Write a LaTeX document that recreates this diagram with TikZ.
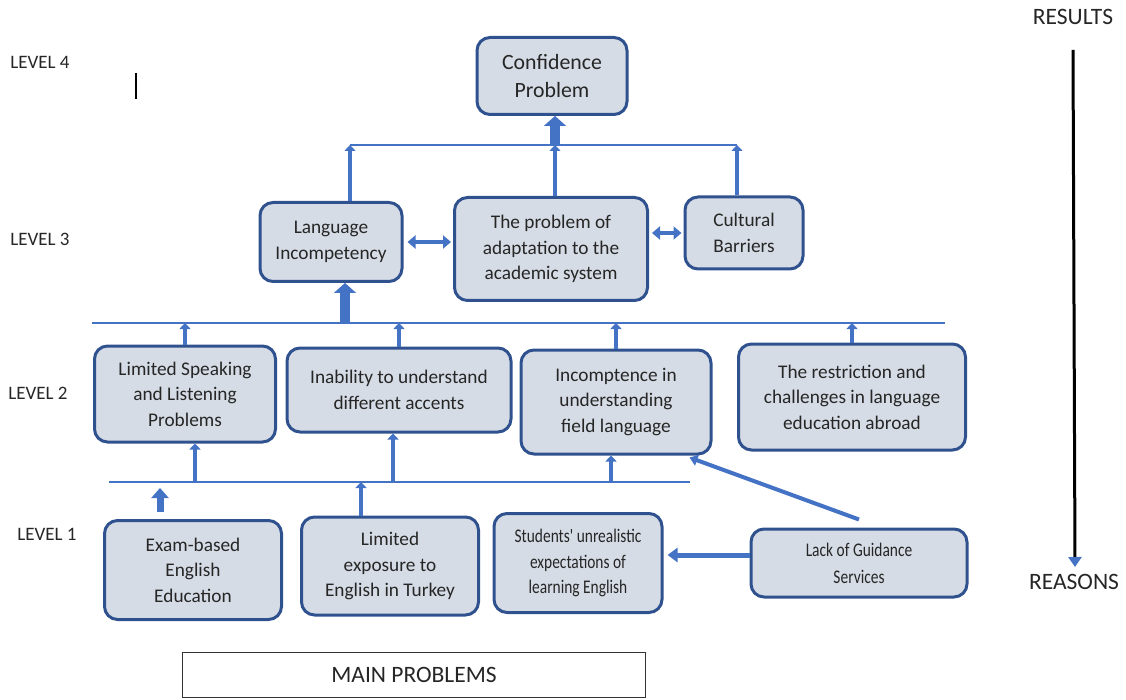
\documentclass[tikz,border=0pt]{standalone}
\usepackage{fontspec}
\setmainfont{Carlito}
\newfontfamily\narrowfont[FakeStretch=0.8]{Carlito}
\usetikzlibrary{
  calc,positioning,
  arrows.meta
}
\definecolor{boxfill}{HTML}{D6DCE5}
\definecolor{boxline}{HTML}{2F528F}
\definecolor{arrowblue}{HTML}{4472C4}
\definecolor{textgrey}{HTML}{262626}
\tikzset{
  probbox/.style={draw=boxline,fill=boxfill,line width=3pt,rounded corners=13pt,
    align=center,text=textgrey,inner sep=0pt,font=\fontsize{19.3}{25.5}\selectfont},
  smallbox/.style={probbox,font=\narrowfont\fontsize{19.3}{25.5}\selectfont},
  busline/.style={arrowblue,line width=2.6pt},
  thinup/.style={arrowblue,line width=4pt,-{Triangle[width=11pt,length=6pt]}},
  midup/.style={arrowblue,line width=7pt,-{Triangle[width=17pt,length=10pt]}},
  fatup/.style={arrowblue,line width=10pt,-{Triangle[width=22pt,length=10pt]}},
  twoway/.style={arrowblue,line width=4.5pt,
    {Triangle[width=13pt,length=8pt]}-{Triangle[width=13pt,length=8pt]}},
  sidelabel/.style={text=textgrey,inner sep=0pt,font=\fontsize{19}{21}\selectfont},
  endlabel/.style={text=textgrey,inner sep=0pt,font=\fontsize{23.5}{26}\selectfont}
}

\begin{document}
\begin{tikzpicture}[x=1pt,y=-1pt]
\useasboundingbox (0,0) rectangle (1126,700);

\node[sidelabel] (lev4) at (40,62) {LEVEL 4};
\node[sidelabel] (lev3) at (40,239) {LEVEL 3};
\node[sidelabel] (lev2) at (38,393) {LEVEL 2};
\node[sidelabel] (lev1) at (47,534) {LEVEL 1};
\draw[line width=1.3pt] (136,73) -- (136,99);

\node[probbox,font=\fontsize{21.8}{28}\selectfont,minimum width=150,minimum height=77] (conf) at (552,76) {Confidence\\Problem};

\node[probbox,minimum width=142,minimum height=79] (lang) at (331,242) {Language\\Incompetency};
\node[probbox,minimum width=193,minimum height=103] (adapt) at (551,249) {The problem of\\adaptation to the\\academic system};
\node[probbox,minimum width=118,minimum height=72] (cult) at (744,233) {Cultural\\Barriers};

\node[probbox,minimum width=181,minimum height=96] (speak) at (185,394) {Limited Speaking\\and Listening\\Problems};
\node[probbox,minimum width=224,minimum height=84] (accent) at (399,390) {Inability to understand\\different accents};
\node[probbox,minimum width=190,minimum height=104] (field) at (616,402) {Incomptence in\\understanding\\field language};
\node[probbox,minimum width=227,minimum height=106] (abroad) at (852,397) {The restriction and\\challenges in language\\education abroad};

\node[probbox,minimum width=177,minimum height=99] (exam) at (193,570) {Exam-based\\English\\Education};
\node[probbox,minimum width=177,minimum height=98] (expo) at (390,566) {Limited\\exposure to\\English in Turkey};
\node[smallbox,minimum width=168,minimum height=99] (expect) at (578,563) {Students{\char"27} unrealistic\\expectations of\\learning English};
\node[smallbox,font=\narrowfont\fontsize{19.3}{27}\selectfont,minimum width=216,minimum height=68] (guide) at (859,563) {Lack of Guidance\\Services};

\node[draw=black!80,line width=1.2pt,minimum width=463,minimum height=45,inner sep=0pt,
  font=\fontsize{23.5}{26}\selectfont,text=textgrey] (mainprob) at (414,675) {MAIN PROBLEMS};

\node[endlabel] (results) at (1073,17) {RESULTS};
\node[endlabel] (reasons) at (1074,582) {REASONS};
\coordinate (axistop) at (1073,50);
\coordinate (axisend) at (1075,567);
\draw[line width=3pt,-{Triangle[width=13pt,length=10pt,color=arrowblue]}] (axistop) -- (axisend);

% level 3 to level 4
\coordinate (top3L) at (350,145);
\coordinate (top3M) at (555,145);
\coordinate (top3R) at (737,145);
\draw[busline] (top3L) -- (top3R);
\draw[thinup] (lang.north -| top3L) -- (top3L);
\draw[thinup] (adapt.north -| top3M) -- (top3M);
\draw[thinup] (cult.north -| top3R) -- (top3R);
\draw[fatup] (top3M) -- (conf.south -| top3M);
\draw[twoway,shorten <=4pt,shorten >=2pt] (lang.east) -- (lang.east -| adapt.west);
\draw[twoway,shorten <=3pt,shorten >=2pt] (adapt.east |- cult.west) -- (cult.west);

% level 2 to level 3
\coordinate (bus2L) at (92,323);
\coordinate (bus2R) at (945,323);
\coordinate (bus2M) at (345,323);
\draw[busline] (bus2L) -- (bus2R);
\draw[fatup] (bus2M) -- (lang.south -| bus2M);
\foreach \n in {speak,accent,field,abroad}
  \draw[thinup] (\n.north) -- (\n.north |- bus2L);

% level 1 to level 2
\coordinate (bus1L) at (109,482);
\coordinate (bus1R) at (690,482);
\coordinate (up1) at (195,482);
\coordinate (up2) at (393,482);
\coordinate (up3) at (611,482);
\coordinate (up4) at (361,482);
\coordinate (up5) at (160,488);
\draw[busline] (bus1L) -- (bus1R);
\draw[thinup] (up1) -- (up1 |- speak.south);
\draw[thinup] (up2) -- (up2 |- accent.south);
\draw[thinup] (up3) -- (up3 |- field.south);
\draw[thinup] (up4 |- expo.north) -- (up4);
\draw[midup] ([xshift=-33pt,yshift=7pt]exam.north) -- (up5);
\draw[arrowblue,line width=4pt,-{Triangle[width=11pt,length=8pt]}] ([yshift=8pt]guide.north) -- ([xshift=-23pt,yshift=-2pt]field.south east);
\draw[arrowblue,line width=5pt,-{Triangle[width=14pt,length=10pt]},shorten >=4pt]
  ([yshift=8pt]guide.west) -- ([yshift=8pt]expect.east);
\end{tikzpicture}
\end{document}
